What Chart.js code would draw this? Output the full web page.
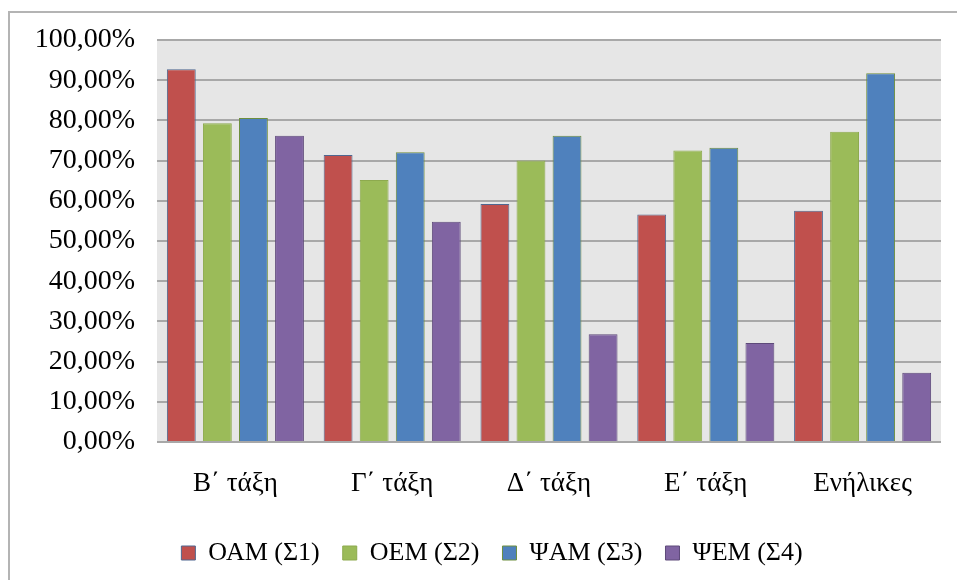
<!DOCTYPE html>
<html>
<head>
<meta charset="utf-8">
<script src="https://cdn.jsdelivr.net/npm/chart.js@4"></script>
<style>
  html, body { margin:0; padding:0; background:#fff; }
</style>
</head>
<body>
<canvas id="chart" width="957" height="580"></canvas>
<script>

const categories = ['Β΄ τάξη', 'Γ΄ τάξη', 'Δ΄ τάξη', 'Ε΄ τάξη', 'Ενήλικες']

const seriesNames = ['ΟΑΜ (Σ1)', 'ΟΕΜ (Σ2)', 'ΨΑΜ (Σ3)', 'ΨΕΜ (Σ4)']

const oam = [92.7, 71.4, 59.2, 56.6, 57.5]
const oem = [79.3, 65.2, 70.0, 72.5, 77.2]
const pam = [80.6, 72.1, 76.2, 73.2, 91.7]
const pem = [76.2, 54.8, 26.8, 24.6, 17.2]

const yTicks = { min: 0, max: 100, step: 10 }

const colors  = ['#C0504D', '#9BBB59', '#4F81BD', '#8064A2']
const borders = ['#4F6790', '#8DAA4E', '#6E8F3E', '#5E4A7A']

const serif = "'Liberation Serif', 'Times New Roman', serif"


//grey plot background + the two frame lines of the original
const backdrop = {
      id: 'backdrop',
      afterLayout: (chart)=>{
            //legend sits a bit right of centre in the original
            chart.legend.left  += 17
            chart.legend.right += 17
      },
      beforeDraw: (chart)=>{
            const c = chart.ctx, a = chart.chartArea
            c.save()
            c.fillStyle = '#E6E6E6'
            c.fillRect(a.left, a.top, a.right - a.left, a.bottom - a.top)
            c.strokeStyle = '#B4B4B4'
            c.lineWidth = 2
            c.beginPath()
            c.moveTo(9, 580); c.lineTo(9, 12); c.lineTo(957, 12)
            c.stroke()
            c.restore()
      }
}


function getDataSet(){
      const values = [oam, oem, pam, pem]
      return values.map((v, i)=>({
            label: seriesNames[i],
            data: v,
            backgroundColor: colors[i],
            borderColor: borders[i],
            borderWidth: 1,
            barPercentage: 0.8,
            categoryPercentage: 0.92,
      }))
}


const setup = {
      type: 'bar',
      data: {
            labels: categories,
            datasets: getDataSet()
      },
      options: {
            responsive: false,
            animation: false,
            layout: { padding: { left: 9, top: 40, right: 16, bottom: 4 } },
            scales: {
                  y: {
                        min: yTicks.min, max: yTicks.max,
                        afterFit: (s)=>{ s.width = 148 },
                        border: { display: false },
                        grid: { color: '#A8A8A8', lineWidth: 2, drawTicks: false },
                        ticks: {
                              stepSize: yTicks.step,
                              padding: 22,
                              color: '#000',
                              font: { family: serif, size: 28 },
                              callback: (v)=> v.toFixed(2).replace('.', ',') + '%'
                        }
                  },
                  x: {
                        afterFit: (s)=>{ s.height = 75 },
                        border: { display: false },
                        grid: { display: false },
                        ticks: {
                              padding: 18,
                              color: '#000',
                              font: { family: serif, size: 27 }
                        }
                  }
            },
            plugins: {
                  tooltip: { enabled: false },
                  legend: {
                        display: true,
                        position: 'bottom',
                        labels: {
                              color: '#000',
                              boxWidth: 14,
                              boxHeight: 14,
                              padding: 23,
                              font: { family: serif, size: 26 }
                        }
                  }
            }
      },
      plugins: [backdrop]
}

new Chart(document.getElementById('chart'), setup)

</script>
</body>
</html>
